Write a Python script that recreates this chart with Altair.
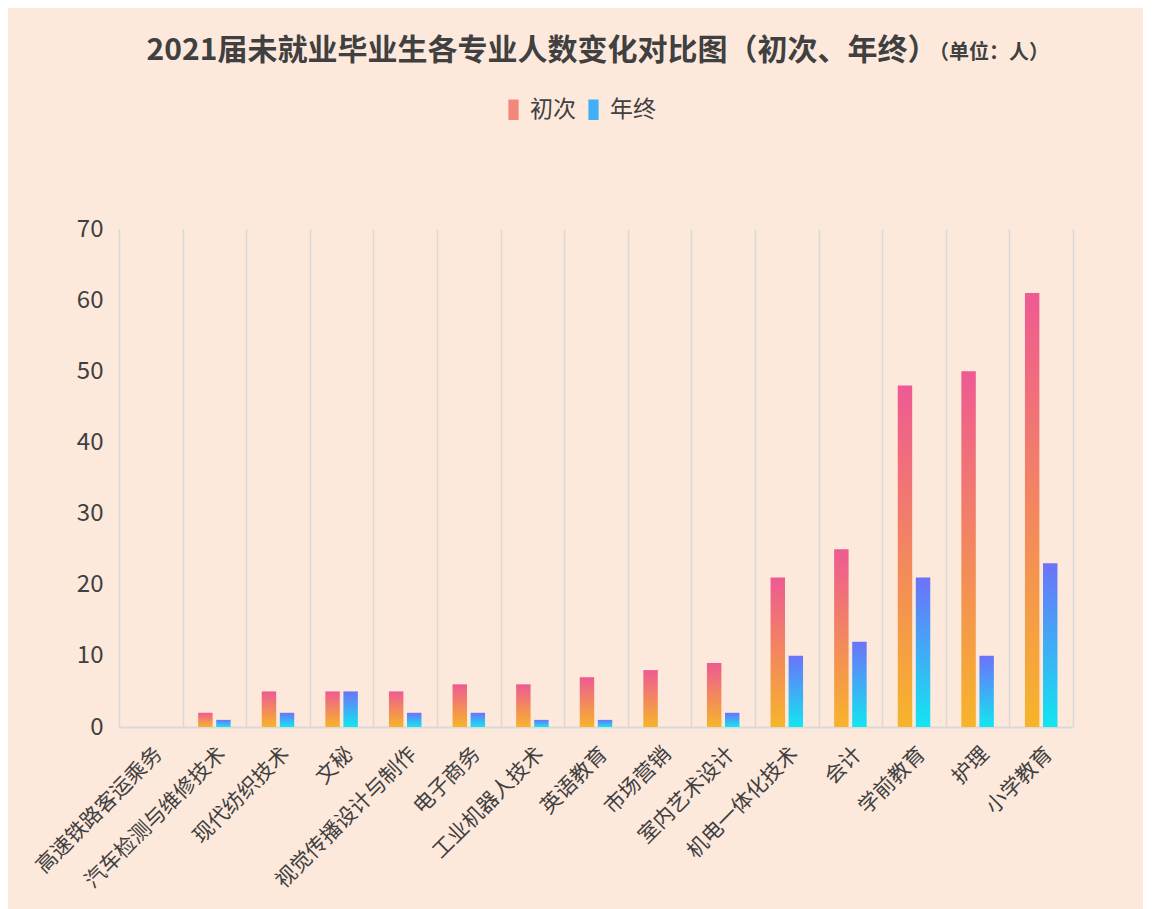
import altair as alt
import pandas as pd

majors = ["高速铁路客运乘务", "汽车检测与维修技术", "现代纺织技术", "文秘", "视觉传播设计与制作",
          "电子商务", "工业机器人技术", "英语教育", "市场营销", "室内艺术设计",
          "机电一体化技术", "会计", "学前教育", "护理", "小学教育"]
initial = [0, 2, 5, 5, 5, 6, 6, 7, 8, 9, 21, 25, 48, 50, 61]
year_end = [0, 1, 2, 5, 2, 2, 1, 1, 0, 2, 10, 12, 21, 10, 23]
series = ["初次", "年终"]

rows = []
for m, a, b in zip(majors, initial, year_end):
    rows.append({"major": m, "series": series[0], "value": a})
    rows.append({"major": m, "series": series[1], "value": b})
df = pd.DataFrame(rows)

FONT = "Noto Sans CJK SC"
grad_a = alt.Gradient(gradient="linear", x1=0, x2=0, y1=0, y2=1,
                      stops=[alt.GradientStop(color="#EE5A93", offset=0),
                             alt.GradientStop(color="#F7B42A", offset=1)])
grad_b = alt.Gradient(gradient="linear", x1=0, x2=0, y1=0, y2=1,
                      stops=[alt.GradientStop(color="#6C72FA", offset=0),
                             alt.GradientStop(color="#12E6F0", offset=1)])

x_enc = alt.X("major:N", sort=majors, title=None,
              scale=alt.Scale(paddingInner=0, paddingOuter=0),
              axis=alt.Axis(labelAngle=-45, labelFontSize=21, labelColor="#404040",
                            labelFont=FONT, labelPadding=16, labelLimit=400, ticks=False,
                            domainColor="#D9D9D9", domainWidth=2,
                            grid=True, gridColor="#D9D9D9", gridWidth=1.5,
                            tickBand="extent"))
y_enc = alt.Y("value:Q", title=None,
              scale=alt.Scale(domain=[0, 70]),
              axis=alt.Axis(values=[0, 10, 20, 30, 40, 50, 60, 70], labelFontSize=24,
                            labelColor="#404040", labelFont=FONT, labelPadding=16,
                            grid=False, domain=False, ticks=False))
xo = alt.XOffset("series:N", scale=alt.Scale(domain=series, paddingInner=0.2, paddingOuter=0.86))

base = alt.Chart(df)
bar_a = base.transform_filter(alt.datum.series == series[0]).mark_bar().encode(
    x=x_enc, y=y_enc, xOffset=xo, fill=alt.value(grad_a))
bar_b = base.transform_filter(alt.datum.series == series[1]).mark_bar().encode(
    x=x_enc, y=y_enc, xOffset=xo, fill=alt.value(grad_b))

legend_layer = base.transform_filter(alt.datum.value < 0).mark_square().encode(
    color=alt.Color("series:N",
                    scale=alt.Scale(domain=series, range=["#F2877A", "#3FB0F4"]),
                    legend=alt.Legend(title=None, orient="none", direction="horizontal",
                                      legendX=383, legendY=-131,
                                      labelFontSize=23, labelFont=FONT,
                                      labelColor="#404040",
                                      symbolType="M-0.5,-1H0.5V1H-0.5Z",
                                      symbolSize=420, symbolStrokeWidth=0,
                                      symbolOpacity=1,
                                      columnPadding=6, labelOffset=5)))

unit = alt.Chart(pd.DataFrame({"t": ["（单位：人）"]})).mark_text(
    align="left", baseline="middle", fontSize=20, fontWeight="bold",
    font=FONT, color="#404040").encode(
    text="t:N", x=alt.value(810), y=alt.value(-176))

chart = alt.layer(bar_a, bar_b, legend_layer, unit).properties(
    width=954, height=498,
    background="#FDE9DC",
    padding={"left": 24, "top": 28, "right": 70, "bottom": 20},
    title=alt.TitleParams(text="2021届未就业毕业生各专业人数变化对比图（初次、年终）",
                          fontSize=30, fontWeight="bold", color="#404040", font=FONT,
                          anchor="middle", dx=-54, offset=0, dy=23),
).configure_view(stroke=None)

chart.save("out.html", embed_options={"renderer": "svg", "actions": False})
